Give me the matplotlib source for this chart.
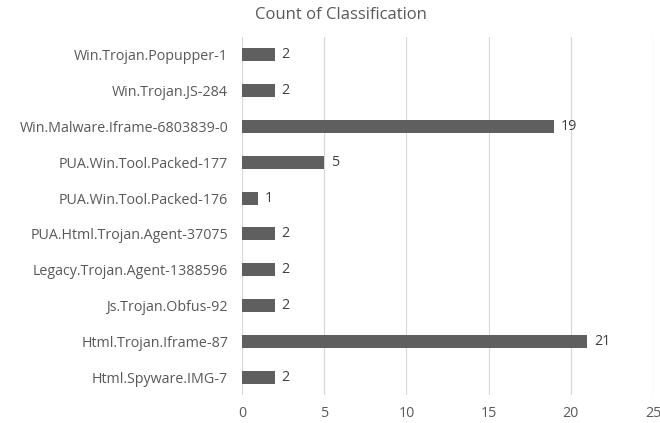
import matplotlib.pyplot as plt

# categories listed bottom to top, as Excel draws them
classes = ['Html.Spyware.IMG-7', 'Html.Trojan.Iframe-87', 'Js.Trojan.Obfus-92',
           'Legacy.Trojan.Agent-1388596', 'PUA.Html.Trojan.Agent-37075',
           'PUA.Win.Tool.Packed-176', 'PUA.Win.Tool.Packed-177',
           'Win.Malware.Iframe-6803839-0', 'Win.Trojan.JS-284', 'Win.Trojan.Popupper-1']
counts = [2, 21, 2, 2, 2, 1, 5, 19, 2, 2]
xticks = [0, 5, 10, 15, 20, 25]

plt.rcParams['font.family'] = ['Open Sans', 'DejaVu Sans']

fig = plt.figure(figsize=(6.6, 4.23), dpi=100)
ax = fig.add_axes([0.3667, 0.0662, 0.6227, 0.8463])

pos = range(len(classes))
ax.barh(pos, counts, height=0.36, color='#5f5f5f', zorder=3)
for y, v in zip(pos, counts):
    ax.text(v + 0.4, y, str(v), va='center', ha='left', fontsize=10.3, color='#404040')

ax.set_yticks(list(pos))
ax.set_yticklabels(classes)
ax.set_xticks(xticks)
ax.set_xlim(0, 25)
ax.set_ylim(-0.5, len(classes) - 0.5)
ax.grid(axis='x', color='#d9d9d9', linewidth=0.9, zorder=0)
for s in ax.spines.values():
    s.set_visible(False)
ax.tick_params(axis='y', length=0, pad=10, labelsize=10.3, labelcolor='#595959')
ax.tick_params(axis='x', length=0, pad=8, labelsize=10.3, labelcolor='#595959')

fig.text(341 / 660, 1 - 15 / 423, 'Count of Classification', ha='center', va='center',
         fontsize=12, color='#595959')

fig.savefig('out.png', dpi=100)
